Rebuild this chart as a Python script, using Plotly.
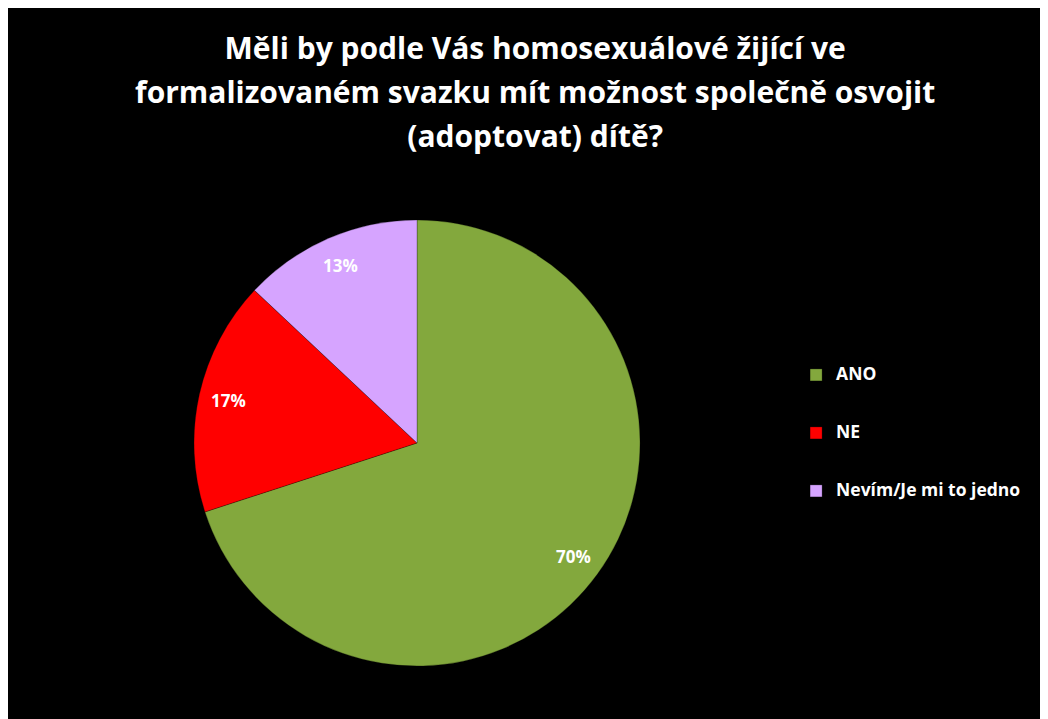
import math
import plotly.graph_objects as go

labels = ["ANO", "NE", "Nevím/Je mi to jedno"]
values = [70, 17, 13]
colors = ["#83A83D", "#FF0000", "#D6A4FF"]

title_lines = ["Měli by podle Vás homosexuálové žijící ve",
               "formalizovaném svazku mít možnost společně osvojit",
               "(adoptovat) dítě?"]

FONT = "'Open Sans', Lato, sans-serif"
W, H = 1048, 719

# pie domain (paper fractions)
dom_x = [0.1775, 0.6031]
dom_y = [0.0848, 0.7052]

legend_labels = ["&nbsp;<br><span style='font-size:17.5px'><b>%s</b></span><br>&nbsp;" % l
                 for l in labels]

fig = go.Figure()
fig.add_trace(go.Pie(
    labels=legend_labels,
    values=values,
    sort=False,
    direction="clockwise",
    rotation=0,
    marker=dict(colors=colors, line=dict(color="rgba(0,0,0,0.25)", width=1)),
    textinfo="none",
    hoverinfo="skip",
    domain=dict(x=dom_x, y=dom_y),
))

# percent labels placed along each slice's mid-angle, derived from the values
cx = (dom_x[0] + dom_x[1]) / 2 * W
cy = (dom_y[0] + dom_y[1]) / 2 * H
R = min((dom_x[1] - dom_x[0]) * W, (dom_y[1] - dom_y[0]) * H) / 2
total = sum(values)
cum = 0
for v in values:
    mid = (cum + v / 2) / total * 2 * math.pi
    cum += v
    px = cx + 0.865 * R * math.sin(mid)
    py = cy + 0.865 * R * math.cos(mid)
    fig.add_annotation(x=px / W, y=py / H, xref="paper", yref="paper",
                       text="<b>%d%%</b>" % round(v / total * 100), showarrow=False,
                       font=dict(color="white", size=17, family=FONT),
                       xanchor="center", yanchor="middle")

title_text = "<br>".join("<span style='font-size:30px'><b>%s</b></span>" % t for t in title_lines)

fig.update_layout(
    width=W, height=H,
    paper_bgcolor="black",
    margin=dict(l=0, t=0, r=0, b=0),
    title=dict(text=title_text, x=0.503, xref="paper", xanchor="center",
               y=0.929, yref="container", yanchor="middle",
               font=dict(color="white", size=34, family=FONT)),
    showlegend=True,
    legend=dict(x=0.752, y=0.409, xanchor="left", yanchor="middle",
                font=dict(color="white", size=14.1, family=FONT),
                bgcolor="rgba(0,0,0,0)", valign="middle", itemwidth=30),
)

fig.write_html("out.html")
